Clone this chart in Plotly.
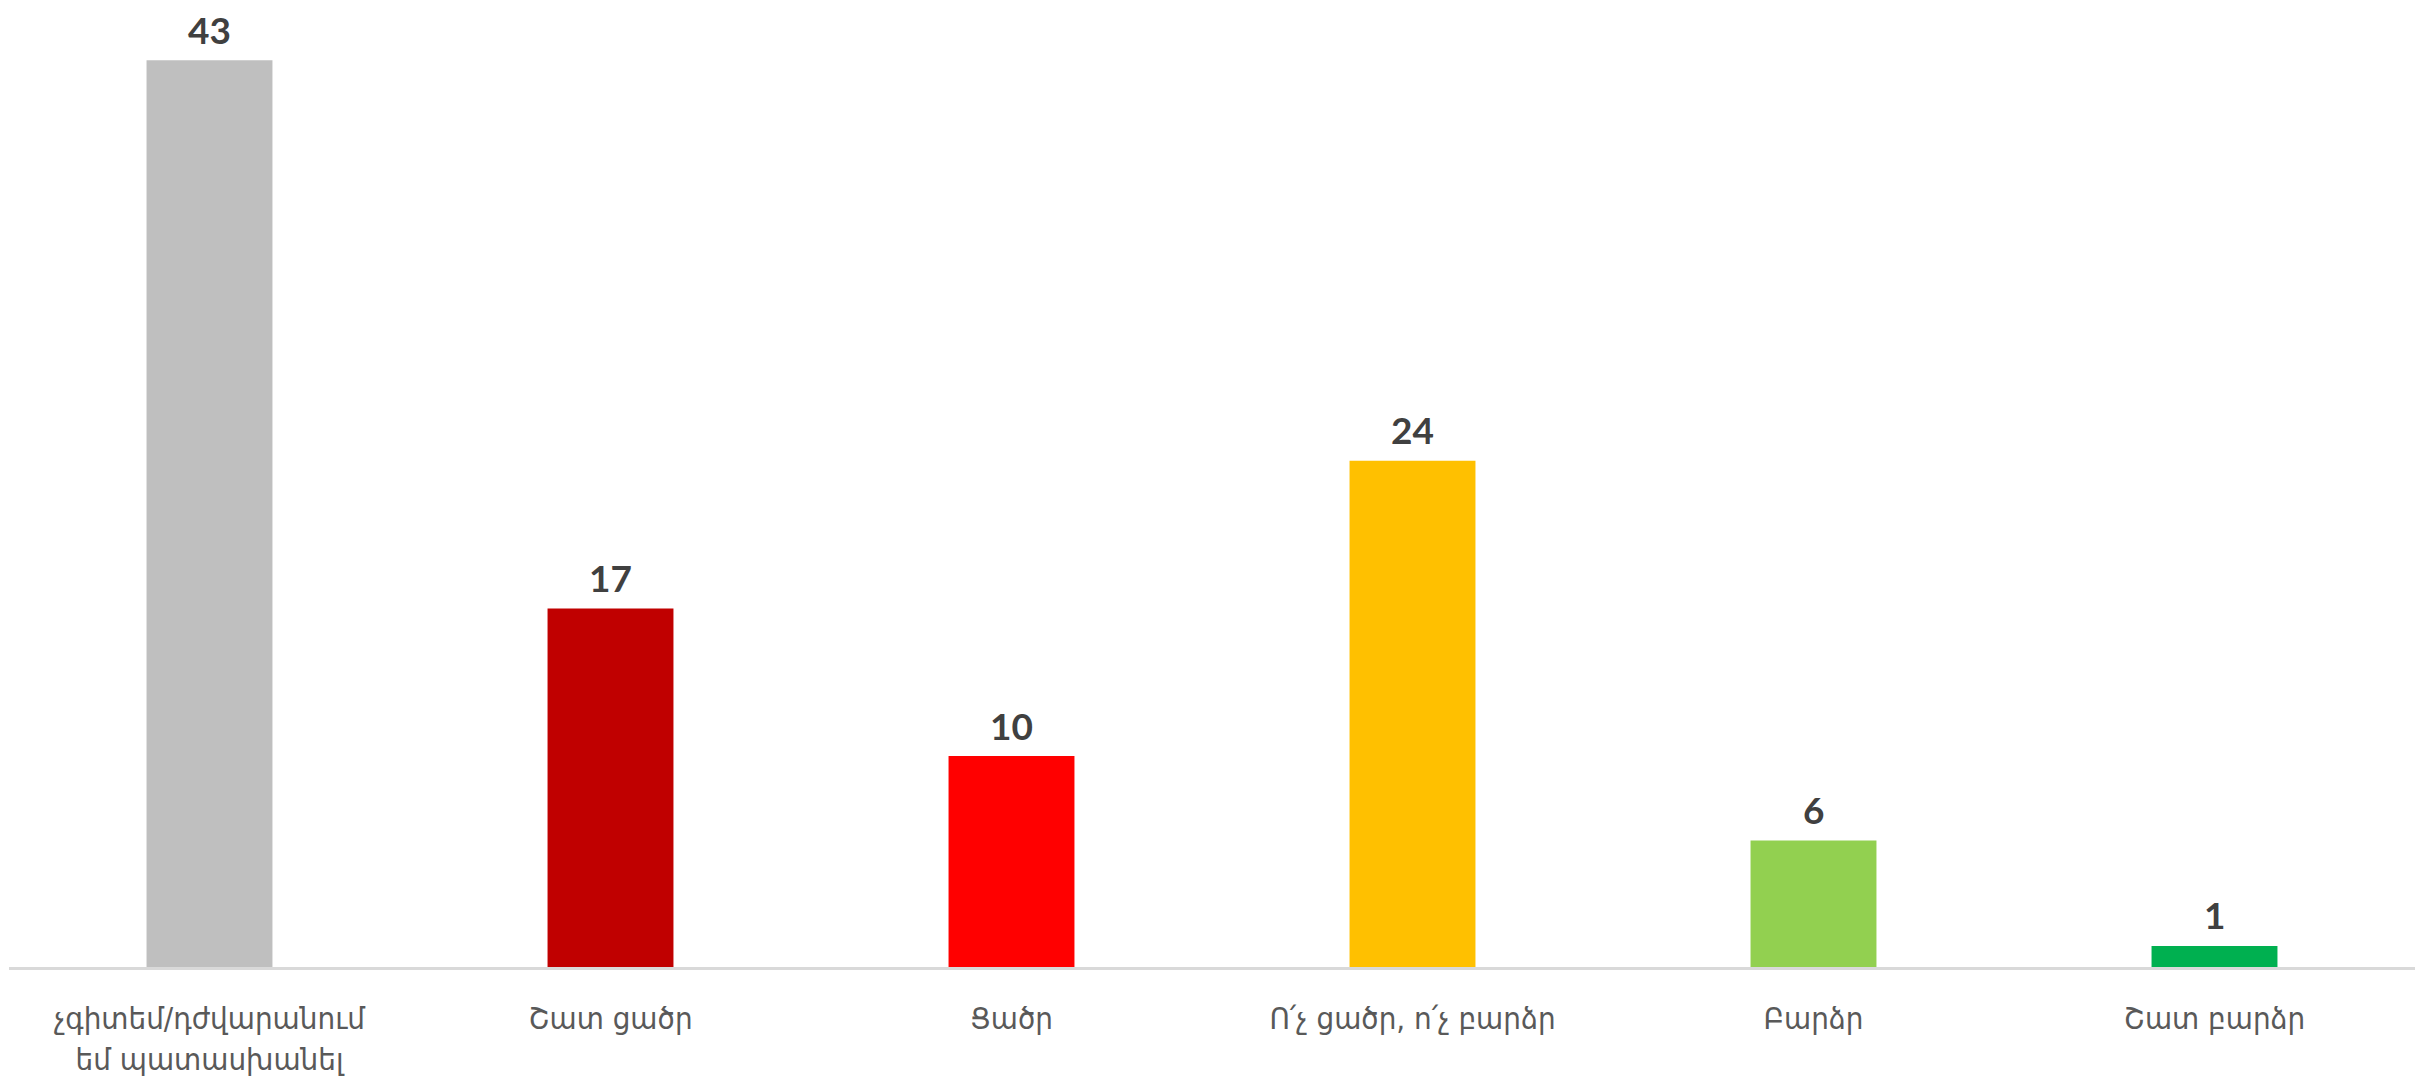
import plotly.graph_objects as go

categories = ["չգիտեմ/դժվարանում<br>եմ պատասխանել", "Շատ ցածր", "Ցածր",
              "Ո՛չ ցածր, ո՛չ բարձր", "Բարձր", "Շատ բարձր"]
values = [43, 17, 10, 24, 6, 1]
colors = ["#BFBFBF", "#C00000", "#FF0000", "#FFC000", "#92D050", "#00B050"]

fig = go.Figure(go.Bar(x=categories, y=values, marker=dict(color=colors, line=dict(width=0)),
                       hoverinfo="skip", cliponaxis=False))

for c, v in zip(categories, values):
    fig.add_annotation(x=c, y=v, text=f"<b>{v}</b>", showarrow=False, yanchor="middle",
                       yshift=31, borderpad=0,
                       font=dict(family="Lato", size=37, color="#404040"))

fig.update_layout(
    width=2419, height=1089,
    margin=dict(l=9, r=4, t=18, b=122, autoexpand=False),
    plot_bgcolor="white", paper_bgcolor="white",
    bargap=0.686,
    showlegend=False,
    xaxis=dict(showline=True, linecolor="#D9D9D9", linewidth=3, ticks="outside", ticklen=22,
               tickcolor="rgba(0,0,0,0)", automargin=False,
               tickfont=dict(family="DejaVu Sans Condensed, DejaVu Sans, sans-serif", size=31, color="#595959"),
               fixedrange=True),
    yaxis=dict(range=[0, 45], visible=False, showgrid=False, zeroline=False, fixedrange=True,
               automargin=False),
)

fig.write_html("out.html", config={"displayModeBar": False},
               post_script="document.body.style.margin='0';document.body.style.overflow='hidden';")
